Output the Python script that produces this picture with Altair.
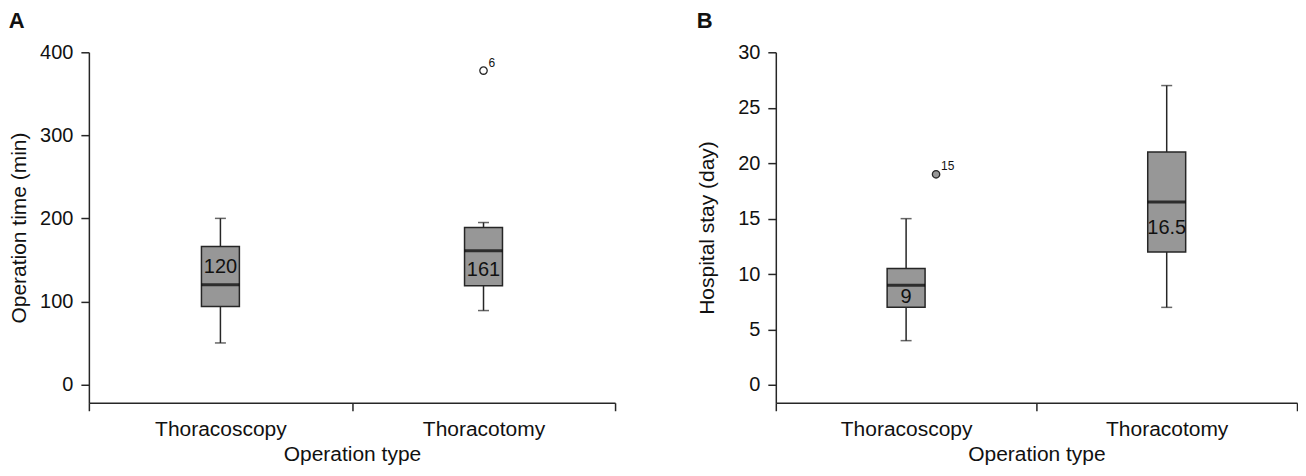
import altair as alt
import pandas as pd

groups = ["Thoracoscopy", "Thoracotomy"]

# Panel A: operation time (min)
a_min = [50, 89]
a_q1 = [94, 119]
a_median = [120, 161]
a_q3 = [166, 189]
a_max = [200, 195]
a_median_text = ["120", "161"]
a_label_y = [141, 138]
a_out_group = ["Thoracotomy"]
a_out_value = [378]
a_out_label = ["6"]
a_ticks = [0, 100, 200, 300, 400]

# Panel B: hospital stay (day)
b_min = [4, 7]
b_q1 = [7, 12]
b_median = [9, 16.5]
b_q3 = [10.5, 21]
b_max = [15, 27]
b_median_text = ["9", "16.5"]
b_label_y = [7.9, 14.2]
b_out_group = ["Thoracoscopy"]
b_out_value = [19]
b_out_label = ["15"]
b_ticks = [0, 5, 10, 15, 20, 25, 30]

FONT = "Liberation Sans"
DARK = "#262626"
TXT = "#111111"


def panel(mins, q1, med, q3, maxs, mtext, laby, og, ov, ol, ytitle, domain,
          ticks, letter, width, filled, out_xoff, ytitle_pad):
    df = pd.DataFrame({"group": groups, "min": mins, "q1": q1, "median": med,
                       "q3": q3, "max": maxs, "mtext": mtext, "laby": laby})
    odf = pd.DataFrame({"group": og, "value": ov, "label": ol})

    common = dict(domainColor=DARK, tickColor=DARK, labelColor=TXT,
                  titleColor=TXT, labelFont=FONT, titleFont=FONT,
                  titleFontWeight="normal", domainWidth=1.5, tickWidth=1.5,
                  tickSize=8, grid=False)
    xenc = alt.X("group:N", sort=groups, title="Operation type",
                 scale=alt.Scale(paddingInner=0, paddingOuter=0),
                 axis=alt.Axis(labelAngle=0, tickBand="extent",
                               labelPadding=8, titlePadding=4,
                               labelFontSize=21, titleFontSize=21, **common))
    yscale = alt.Scale(domain=domain, nice=False, zero=False)
    yenc = alt.Y("min:Q", scale=yscale,
                 axis=alt.Axis(values=ticks, title=ytitle,
                               labelPadding=8, titlePadding=ytitle_pad,
                               labelFontSize=20, titleFontSize=21, **common))

    base = alt.Chart(df).encode(x=xenc)
    whisk = base.mark_rule(color=DARK, strokeWidth=1.5).encode(y=yenc, y2="max:Q")
    cap_lo = base.mark_tick(size=11, thickness=1.5, color=DARK).encode(
        y=alt.Y("min:Q", scale=yscale))
    cap_hi = base.mark_tick(size=11, thickness=1.5, color=DARK).encode(
        y=alt.Y("max:Q", scale=yscale))
    box = base.mark_bar(size=38, fill="#979797", stroke=DARK,
                        strokeWidth=1.5).encode(y=alt.Y("q1:Q", scale=yscale),
                                                y2="q3:Q")
    medline = base.mark_tick(size=38, thickness=3, color="#000000").encode(
        y=alt.Y("median:Q", scale=yscale))
    medtext = base.mark_text(font=FONT, fontSize=20, color=TXT).encode(
        y=alt.Y("laby:Q", scale=yscale), text="mtext:N")

    opt = alt.Chart(odf).mark_point(
        shape="circle", size=55, filled=filled,
        fill="#979797" if filled else "#ffffff",
        stroke=DARK, strokeWidth=1.3, opacity=1, xOffset=out_xoff
    ).encode(x=alt.X("group:N", sort=groups),
             y=alt.Y("value:Q", scale=yscale))
    olab = alt.Chart(odf).mark_text(
        font=FONT, fontSize=12, color=TXT, align="left", dx=5, dy=-8,
        xOffset=out_xoff
    ).encode(x=alt.X("group:N", sort=groups),
             y=alt.Y("value:Q", scale=yscale), text="label:N")

    return alt.layer(whisk, cap_lo, cap_hi, box, medline, medtext, opt, olab).properties(
        width=width, height=351,
        title=alt.TitleParams(letter, anchor="start", frame="bounds",
                              fontSize=22, fontWeight="bold", font=FONT,
                              offset=9, color=TXT))


pa = panel(a_min, a_q1, a_median, a_q3, a_max, a_median_text, a_label_y,
           a_out_group, a_out_value, a_out_label, "Operation time (min)",
           [-22, 400], a_ticks, "A", 527, False, 0, 10)
pb = panel(b_min, b_q1, b_median, b_q3, b_max, b_median_text, b_label_y,
           b_out_group, b_out_value, b_out_label, "Hospital stay (day)",
           [-1.6, 30], b_ticks, "B", 522, True, 30, 20)

chart = alt.hconcat(pa, pb, spacing=80).properties(
    padding={"left": 0, "top": 2, "right": 0, "bottom": 0},
    background="#ffffff"
).configure_view(stroke=None)

chart.save("out.html", embed_options={"renderer": "svg", "actions": False})
